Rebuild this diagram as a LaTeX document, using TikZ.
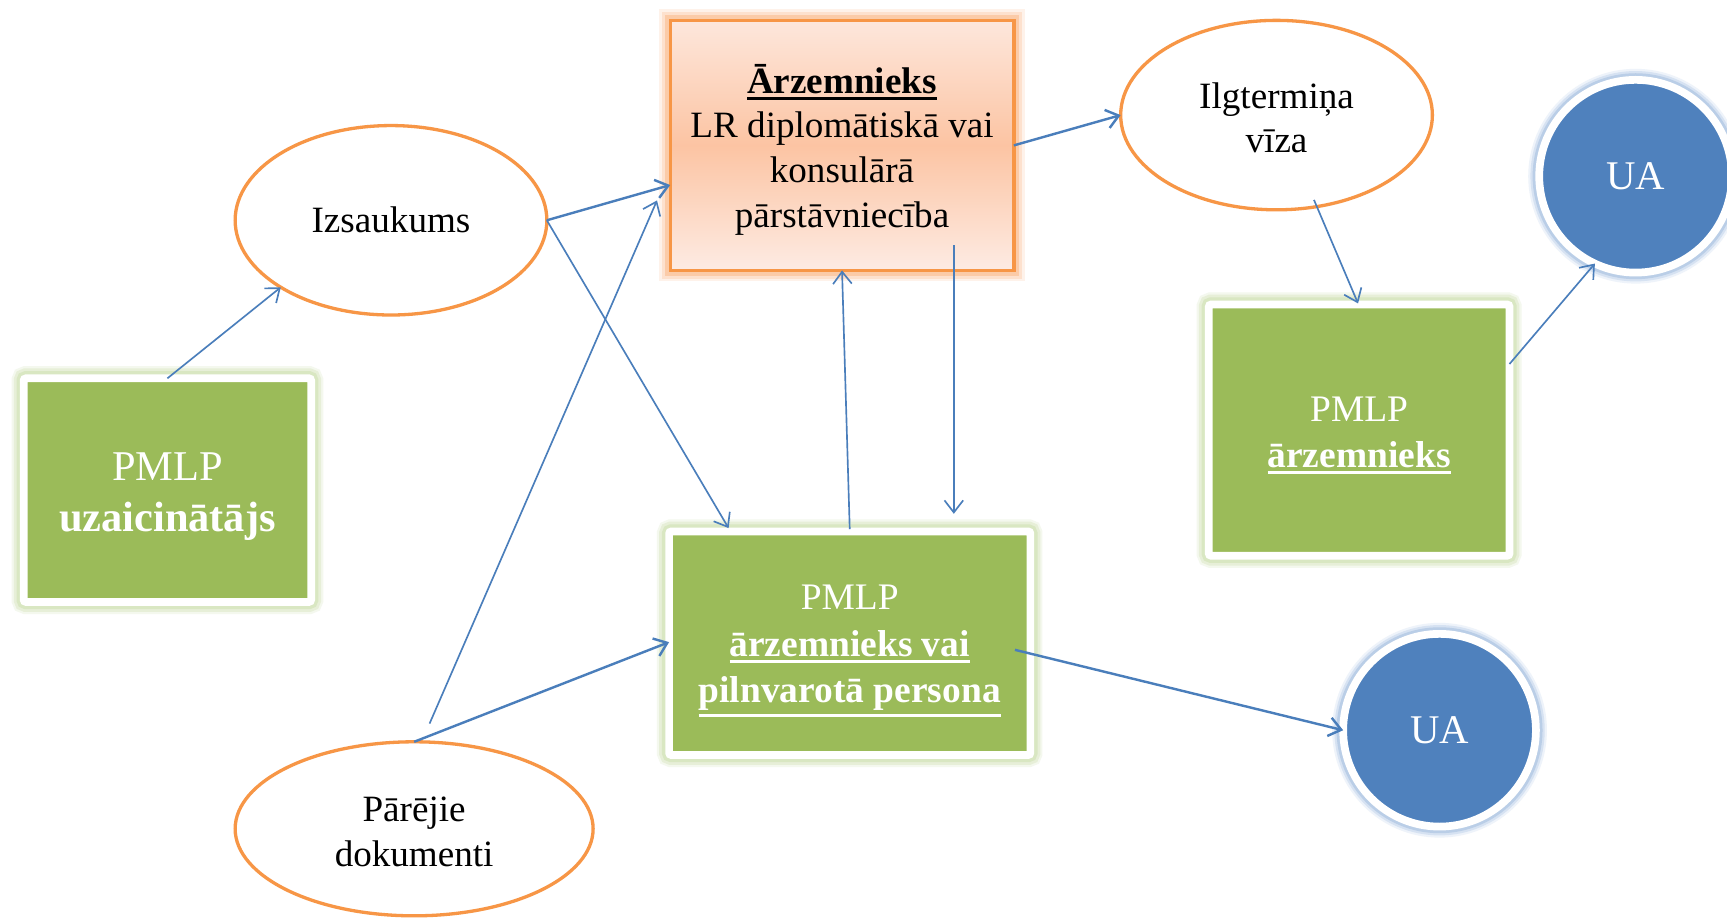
\documentclass[tikz,border=0pt]{standalone}
\usepackage{fontspec}
\setmainfont{Liberation Serif}
\usetikzlibrary{shapes.geometric,arrows.meta,calc}
\definecolor{gfill}{HTML}{9BBB59}
\definecolor{gglowA}{HTML}{F4F8EE}
\definecolor{gglowB}{HTML}{E7EFD8}
\definecolor{gglowC}{HTML}{D9E7C2}
\definecolor{oline}{HTML}{F79646}
\definecolor{oglowA}{HTML}{FEF2EA}
\definecolor{oglowB}{HTML}{FDE1CE}
\definecolor{oglowC}{HTML}{FBCBA8}
\definecolor{otop}{HTML}{FDE7DC}
\definecolor{omid}{HTML}{FCC4A3}
\definecolor{obot}{HTML}{FDEBE3}
\definecolor{bfill}{HTML}{4F81BD}
\definecolor{bglowA}{HTML}{EEF3FA}
\definecolor{bglowB}{HTML}{D6E2F2}
\definecolor{bglowC}{HTML}{BACEE7}
\definecolor{arr}{HTML}{4A7EBB}
\newcommand{\myul}[1]{\leavevmode\vtop{\hbox{#1}\kern3pt\hrule height 2.6pt}}
\tikzset{
  txt/.style={align=center, font=\fontsize{33.7}{40.7}\selectfont},
  label/.style={align=center, inner sep=0pt, outer sep=0pt},
  greenbox/.style={rectangle, fill=gfill, draw=white, line width=7pt, rounded corners=2pt,
    inner sep=0pt, outer sep=0pt,
    preaction={draw=gglowA, line width=22pt},
    preaction={draw=gglowB, line width=18pt},
    preaction={draw=gglowC, line width=13pt}},
  orangebox/.style={rectangle, draw=oline, line width=3pt, inner sep=0pt, outer sep=0pt,
    top color=otop, bottom color=obot, middle color=omid,
    preaction={draw=oglowA, line width=20pt},
    preaction={draw=oglowB, line width=15pt},
    preaction={draw=oglowC, line width=10pt}},
  oval/.style={ellipse, draw=oline, fill=white, line width=3pt, inner sep=0pt, outer sep=0pt, align=center},
  bluecirc/.style={circle, fill=bfill, draw=white, line width=7pt, inner sep=0pt, outer sep=0pt,
    minimum size=175pt, text=white, font=\fontsize{37}{44}\selectfont,
    preaction={draw=bglowA, line width=20pt},
    preaction={draw=bglowB, line width=16pt},
    preaction={draw=bglowC, line width=12pt}},
  thinarr/.style={draw=arr, line width=1.5pt, -{Straight Barb[length=11pt,width=17pt]}},
  thickarr/.style={draw=arr, line width=2.2pt, -{Straight Barb[length=11pt,width=17pt]}}
}
\begin{document}
\begin{tikzpicture}[x=1pt,y=-1pt]
\fill[white] (0,0) rectangle (1568,834.4);
\useasboundingbox (0,0) rectangle (1568,834.4);

\node[greenbox, minimum width=261pt, minimum height=203pt] (lbox) at (152,445) {};
\node[label, text=white, font=\fontsize{38.5}{46}\selectfont] (lboxt) at ($(lbox)+(0,6)$)
  {PMLP\\\textbf{uzaicinātājs}};
\node[oval, txt, minimum width=283pt, minimum height=172pt] (izs) at (355,200) {Izsaukums};
\node[oval, minimum width=325pt, minimum height=158pt] (par) at (376,752.5) {};
\node[label, txt] (part) at ($(par)+(0,3)$) {Pārējie\\dokumenti};
\node[orangebox, minimum width=312pt, minimum height=227pt] (obox) at (764.5,132) {};
\node[label, txt] (oboxt) at ($(obox)+(0,4)$)
  {\myul{\textbf{Ārzemnieks}}\\LR diplomātiskā vai\\konsulārā\\pārstāvniecība};
\node[greenbox, minimum width=328pt, minimum height=203pt] (mbox) at (771.5,584) {};
\node[label, text=white, font=\fontsize{34}{42}\selectfont] (mboxt) at ($(mbox)+(0,7)$)
  {PMLP\\\myul{\textbf{ārzemnieks vai}}\\\myul{\textbf{pilnvarotā persona}}};
\node[oval, minimum width=283pt, minimum height=172pt] (ilg) at (1159,104.5) {};
\node[label, txt] (ilgt) at ($(ilg)+(0,2.5)$) {Ilgtermiņa\\vīza};
\node[greenbox, minimum width=273pt, minimum height=228pt] (rbox) at (1234,390.5) {};
\node[label, text=white, font=\fontsize{34}{42}\selectfont] (rboxt) at ($(rbox)+(0,5)$)
  {PMLP\\\myul{\textbf{ārzemnieks}}};
\node[bluecirc] (ua1) at (1485,160) {UA};
\node[bluecirc] (ua2) at (1307,663) {UA};

\draw[thinarr] (lbox.north) -- (izs.south west);
\draw[thickarr] (izs.east) -- ($(obox.west)+(0,36)$);
\draw[thinarr] (izs.east) -- ($(mbox.north)+(-110,-3)$);
\draw[thinarr] ($(par.north)+(14,-16.5)$) -- ($(obox.west)+(-12,50)$);
\draw[thickarr] (par.north) -- ($(mbox.west)+(0,-1)$);
\draw[thinarr] ($(mbox.north)+(0,-2)$) -- (obox.south);
\draw[thinarr] ($(obox.south)+(101.5,-23)$) -- ($(mbox.north)+(94.5,-16)$);
\draw[thickarr] (obox.east) -- (ilg.west);
\draw[thinarr] ($(ilg.south)+(34,-9)$) -- ($(rbox.north)+(-1,-1)$);
\draw[thinarr] ($(rbox.east)+(0,-60)$) -- (ua1.245);
\draw[thickarr] ($(mbox.east)+(-14,6)$) -- (ua2.west);
\end{tikzpicture}
\end{document}
